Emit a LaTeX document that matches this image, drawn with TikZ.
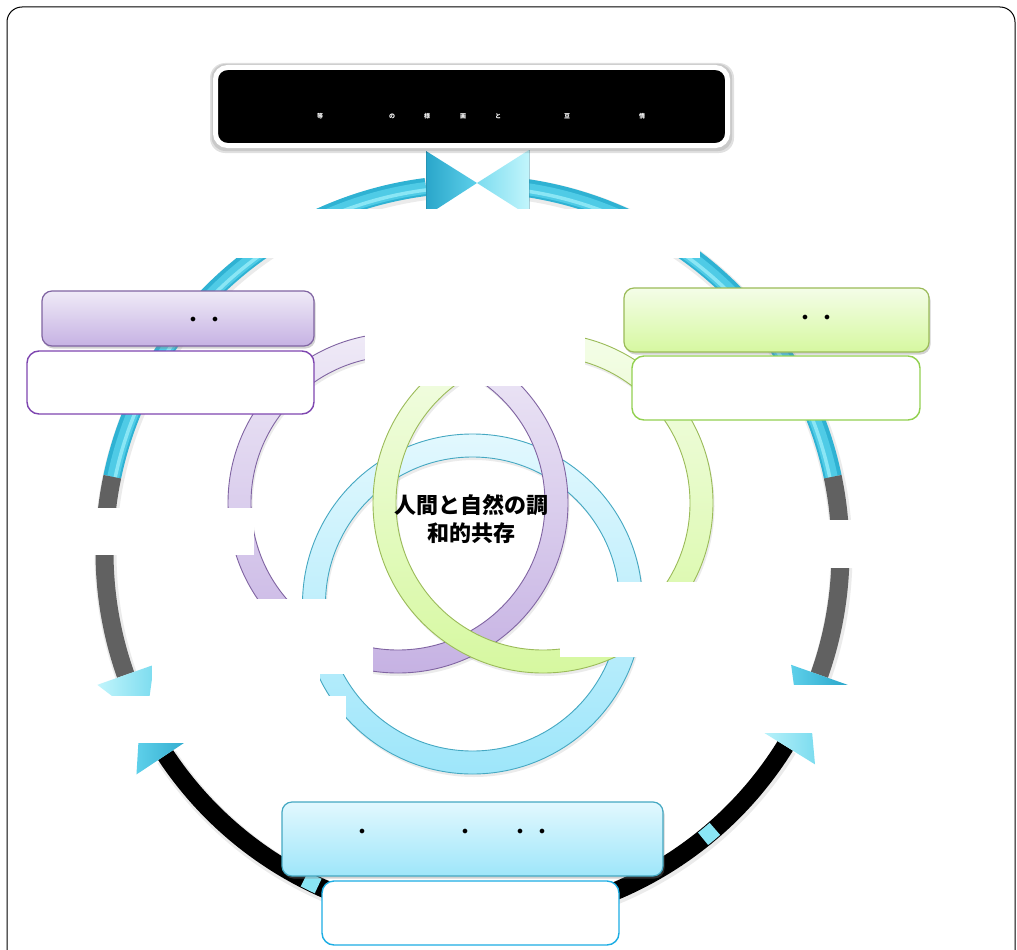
\documentclass[tikz,border=0pt]{standalone}
\usepackage{fontspec}
\newfontfamily\cjk{Noto Sans CJK JP}
\usetikzlibrary{shadows,calc}
\definecolor{cyD}{HTML}{2FB2D3}
\definecolor{cyM}{HTML}{4FCBE6}
\definecolor{cyL}{HTML}{8AE6F5}
\definecolor{grayR}{HTML}{616161}
\definecolor{arD1}{HTML}{5ED0EA}
\definecolor{arD2}{HTML}{2AA6CA}
\definecolor{arL1}{HTML}{C2F5FC}
\definecolor{arL2}{HTML}{7CDCEF}
\definecolor{puT}{HTML}{EFEAF7}
\definecolor{puB}{HTML}{C6B2E3}
\definecolor{puS}{HTML}{8064A2}
\definecolor{puX}{HTML}{7E46B0}
\definecolor{grT}{HTML}{F4FDE8}
\definecolor{grB}{HTML}{D6F8A0}
\definecolor{grS}{HTML}{9BBB59}
\definecolor{grX}{HTML}{92D050}
\definecolor{blT}{HTML}{E2F8FE}
\definecolor{blB}{HTML}{9EE6FA}
\definecolor{blS}{HTML}{45A8C2}
\definecolor{blX}{HTML}{1CADE4}
\begin{document}
\begin{tikzpicture}[x=1pt,y=-1pt,
  hdr/.style={rounded corners=10pt, line width=1.2pt, inner sep=0pt,
    drop shadow={opacity=.35, shadow xshift=1.5pt, shadow yshift=-2.5pt}},
  txtbox/.style={rounded corners=12pt, fill=white, line width=1.4pt, inner sep=0pt},
  dotmark/.style={inner sep=0pt, font=\fontsize{13}{13}\selectfont},
  tinyglyph/.style={inner sep=0pt, text=white, font=\cjk\bfseries\fontsize{6}{6}\selectfont},
  mask/.style={fill=white},
  ringcut/.style={even odd rule, line width=0.9pt}]
\useasboundingbox (0,0) rectangle (1017,950);
\fill[white] (0,0) rectangle (1017,950);
\draw[black, line width=1pt, rounded corners=15pt] (7,7) rectangle (1015,995);

\coordinate (C) at (472.5,552);
% ---------- big ring ----------
% soft shadows
\foreach \a/\b in {191.8/262.7, 277.3/348.2, 160.5/191.8, -11.8/19.5, 31.8/146.5}{
  \draw[black, opacity=.08, line width=22] ($(C)+(1,2)+(\a:368)$) arc[start angle=\a, end angle=\b, radius=368];
}
% cyan top
\foreach \a/\b in {191.8/262.7, 277.3/348.2}{
  \draw[cyD, line width=18] ($(C)+(\a:368)$) arc[start angle=\a, end angle=\b, radius=368];
  \draw[cyM, line width=12] ($(C)+(\a:367)$) arc[start angle=\a, end angle=\b, radius=367];
  \draw[cyL, line width=3.5] ($(C)+(\a:365)$) arc[start angle=\a, end angle=\b, radius=365];
}
% gray sides
\foreach \a/\b in {160.5/191.8, -11.8/19.5}{
  \draw[grayR, line width=18] ($(C)+(\a:368)$) arc[start angle=\a, end angle=\b, radius=368];
}
% black bottom
\draw[black, line width=18] ($(C)+(31.8:368)$) arc[start angle=31.8, end angle=146.5, radius=368];
% light patches on the black segment
\foreach \a in {50,116}{
  \draw[cyL, line width=16] ($(C)+(\a-1.2:368)$) arc[start angle=\a-1.2, end angle=\a+1.2, radius=368];
}
% arrowheads (base angle, tip angle)
\shade[left color=arL1, right color=arL2] ($(C)+(160.5:338)$) -- ($(C)+(160.5:398)$) -- ($(C)+(152.5:368)$) -- cycle;
\shade[left color=arD1, right color=arD2] ($(C)+(146.5:333)$) -- ($(C)+(146.5:403)$) -- ($(C)+(154.5:368)$) -- cycle;
\shade[left color=arD1, right color=arD2] ($(C)+(19.5:338)$) -- ($(C)+(19.5:398)$) -- ($(C)+(27.5:368)$) -- cycle;
\shade[left color=arL1, right color=arL2] ($(C)+(31.8:333)$) -- ($(C)+(31.8:403)$) -- ($(C)+(23.8:368)$) -- cycle;
% bow tie at top
\coordinate (bowtip) at (477,183);
\shade[left color=arD2, right color=arD1] (426,151) -- (426,216) -- (bowtip) -- cycle;
\shade[left color=arL2, right color=arL1] (529,150) -- (529,216) -- (bowtip) -- cycle;
\draw[arD2!70!black, opacity=.35, line width=0.6pt] (426,151) -- (426,216) (529,150) -- (529,216);

% ---------- inner rings ----------
\coordinate (PB) at (472.5,604);
\coordinate (PP) at (398,503);
\coordinate (PG) at (543,503);
\foreach \p in {PB,PP,PG}{
  \fill[black, opacity=.08, even odd rule] ($(\p)+(1.5,3)$) circle (170) ($(\p)+(1.5,3)$) circle (147);
}
\path[ringcut, draw=blS, top color=blT, bottom color=blB] (PB) circle (170) (PB) circle (147);
\path[ringcut, draw=puS, top color=puT, bottom color=puB] (PP) circle (170) (PP) circle (147);
\path[ringcut, draw=grS, top color=grT, bottom color=grB] (PG) circle (170) (PG) circle (147);

% ---------- white masks ----------
\fill[mask] (230,209) rectangle (700,258);
\fill[mask] (365,257) rectangle (585,386);
\fill[mask] (90,508) rectangle (254,555);
\fill[mask] (152,599) rectangle (373,674);
\fill[mask] (152,673) rectangle (320,696);
\fill[mask] (85,696) rectangle (346,743);
\fill[mask] (825,520) rectangle (862,568);
\fill[mask] (560,582) rectangle (800,657);
\fill[mask] (640,685) rectangle (862,733);

% ---------- boxes ----------
\node[hdr, draw=puS, top color=puT, bottom color=puB, minimum width=272pt, minimum height=55pt] (phdr) at (178,318.5) {};
\node[txtbox, draw=puX, minimum width=287pt, minimum height=63pt] (ptxt) at (170.5,382.5) {};
\node[hdr, draw=grS, top color=grT, bottom color=grB, minimum width=305pt, minimum height=64pt] (ghdr) at (776.5,320) {};
\node[txtbox, draw=grX, minimum width=288pt, minimum height=64pt] (gtxt) at (776,388) {};
\node[hdr, draw=blS, top color=blT, bottom color=blB, minimum width=381pt, minimum height=74pt] (bhdr) at (472.5,839) {};
\node[txtbox, draw=blX, minimum width=297pt, minimum height=64pt] (btxt) at (470.5,913) {};

\node[dotmark] (pd1) at (193,320) {$\bullet$};
\node[dotmark] (pd2) at (215,320) {$\bullet$};
\node[dotmark] (gd1) at (805,318) {$\bullet$};
\node[dotmark] (gd2) at (827,318) {$\bullet$};
\node[dotmark] (bd1) at (362,832) {$\bullet$};
\node[dotmark] (bd2) at (465,832) {$\bullet$};
\node[dotmark] (bd3) at (520,832) {$\bullet$};
\node[dotmark] (bd4) at (542,832) {$\bullet$};

% ---------- centre text ----------
\node[align=center, inner sep=0pt, font=\cjk\bfseries\fontsize{22}{28}\selectfont] (core) at (471,519) {人間と自然の調\\和的共存};

% ---------- title ----------
\fill[black, opacity=.12, rounded corners=15pt] (210,63) rectangle (734,153);
\fill[black, opacity=.10, rounded corners=14pt] (211.5,64) rectangle (732,151);
\node[draw=white, line width=5pt, fill=black, rounded corners=12pt, minimum width=512pt, minimum height=78pt, inner sep=0pt] (title) at (471.5,106.5) {};
\node[tinyglyph] (t1) at (320,116) {等};
\node[tinyglyph] (t2) at (392,116) {の};
\node[tinyglyph] (t3) at (427,116) {様};
\node[tinyglyph] (t4) at (463,116) {画};
\node[tinyglyph] (t5) at (498,116) {と};
\node[tinyglyph] (t6) at (567,116) {豆};
\node[tinyglyph] (t7) at (642,116) {情};
\end{tikzpicture}
\end{document}
